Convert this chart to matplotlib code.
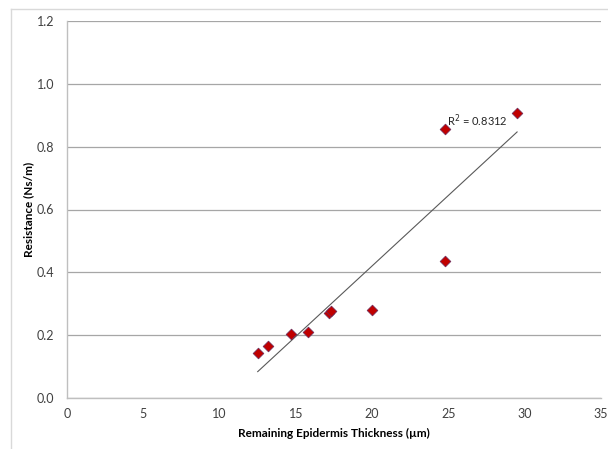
import numpy as np
import matplotlib.pyplot as plt
from matplotlib.lines import Line2D

plt.rcParams['font.family'] = ['Lato', 'DejaVu Sans']

espesor = [12.5, 13.2, 14.7, 15.8, 17.2, 17.3, 20.0, 24.8, 24.8, 29.5]
resistencia = [0.143, 0.165, 0.204, 0.210, 0.270, 0.276, 0.280, 0.436, 0.856, 0.907]
r2_texto = "R$^2$ = 0.8312"

fig = plt.figure(figsize=(6.08, 4.49), dpi=100)
ax = fig.add_axes([67 / 608, 1 - 398 / 449, 534 / 608, 377 / 449])

# recta de tendencia
m, b = np.polyfit(espesor, resistencia, 1)
xs = np.array([min(espesor), max(espesor)])
ax.plot(xs, m * xs + b, color='#595959', lw=0.8, zorder=2)

ax.scatter(espesor, resistencia, marker='D', s=30, facecolor='#C00000',
           edgecolor='#6a2a5a', linewidth=0.5, zorder=3)

ax.text(24.9, 0.855, r2_texto, fontsize=8, color='#262626', va='bottom', ha='left')

ax.set_xlim(0, 35)
ax.set_ylim(0, 1.2)
ax.set_xticks(range(0, 36, 5))
ax.set_yticks(np.arange(0, 1.21, 0.2))
ax.set_yticklabels([f"{v:.1f}" for v in np.arange(0, 1.21, 0.2)])
ax.yaxis.grid(True, color='#a6a6a6', lw=0.9)
ax.set_axisbelow(True)
for s in ['top', 'right']:
    ax.spines[s].set_visible(False)
for s in ['left', 'bottom']:
    ax.spines[s].set_color('#bfbfbf')
    ax.spines[s].set_linewidth(1.0)
ax.tick_params(length=0, labelsize=9, colors='#404040')
ax.tick_params(axis='y', pad=9)
ax.tick_params(axis='x', pad=7)

ax.set_xlabel("Remaining Epidermis Thickness (µm)", fontsize=8.5, fontweight='bold', labelpad=6)
ax.set_ylabel("Resistance (Ns/m)", fontsize=8.5, fontweight='bold', labelpad=2)

# marco exterior del grafico
fig.add_artist(Line2D([11 / 608, 11 / 608], [0, 1 - 9 / 449], transform=fig.transFigure, color='#d9d9d9', lw=1))
fig.add_artist(Line2D([11 / 608, 1], [1 - 9 / 449, 1 - 9 / 449], transform=fig.transFigure, color='#d9d9d9', lw=1))

fig.savefig("out.png", dpi=100)
plt.close(fig)
